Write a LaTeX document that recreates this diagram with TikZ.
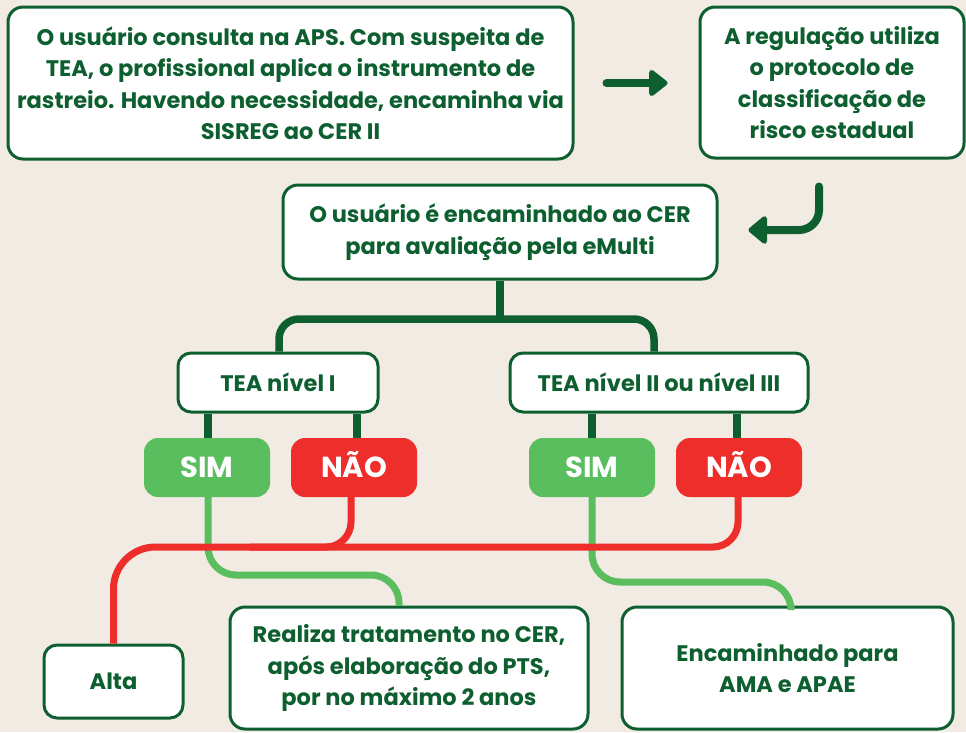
\documentclass[tikz,border=0pt]{standalone}
\usepackage{fontspec}
\setmainfont{Poppins}
\usetikzlibrary{arrows.meta}
\definecolor{dkg}{HTML}{0E5F30}
\definecolor{lgr}{HTML}{5BBE5E}
\definecolor{rdd}{HTML}{EE2E2A}
\definecolor{bgc}{HTML}{F1EBE3}
\tikzset{
  box/.style={draw=dkg, line width=3pt, fill=white, rounded corners=15pt, inner sep=0pt,
    align=center, text=dkg, font=\bfseries\fontsize{22.5}{31.5}\selectfont},
  tag/.style={rounded corners=14pt, inner sep=0pt, minimum width=126pt, minimum height=59pt,
    text height=20pt, text depth=0pt,
    text=white, font=\bfseries\fontsize{29}{32}\selectfont},
  dkline/.style={draw=dkg, line width=7.5pt},
  gline/.style={draw=lgr, line width=7pt, rounded corners=28pt},
  rline/.style={draw=rdd, line width=7pt},
}
\begin{document}
\begin{tikzpicture}[x=1pt,y=-1pt]
\fill[bgc] (0,0) rectangle (966,732);
\useasboundingbox (0,0) rectangle (966,732);

\node[box, minimum width=565pt, minimum height=152pt] (b1) at (290.5,83)
  {O usuário consulta na APS. Com suspeita de\\TEA, o profissional aplica o instrumento de\\rastreio. Havendo necessidade, encaminha via\\SISREG ao CER II};
\node[box, minimum width=264pt, minimum height=151pt] (b2) at (832,82.5)
  {A regulação utiliza\\o protocolo de\\classificação de\\risco estadual};
\node[box, minimum width=434pt, minimum height=94pt] (b3) at (500,232)
  {O usuário é encaminhado ao CER\\para avaliação pela eMulti};

% arrows
\draw[dkg, line width=8pt, line cap=round, -{Triangle[round,length=20pt,width=30pt]}]
  ([xshift=32pt]b1.east) -- ([xshift=-31pt]b2.west |- b1.east);
\draw[dkg, line width=8pt, line cap=round, rounded corners=20pt, -{Triangle[round,length=20pt,width=32pt]}]
  ([xshift=-13pt,yshift=-27pt]b2.south) |- ([xshift=30pt,yshift=2pt]b3.east);

\node[box, rounded corners=13pt, minimum width=200pt, minimum height=59pt] (t1) at (278,382.5) {TEA nível I};
\node[box, rounded corners=13pt, minimum width=298pt, minimum height=59pt] (t2) at (659,382.5) {TEA nível II ou nível III};

\coordinate (bar) at (499,319);
\draw[dkline, rounded corners=20pt] ([xshift=1pt]t1.north) |- (bar) -| ([xshift=-5pt]t2.north);
\draw[dkline] (b3.south) -- (b3.south |- bar);

\node[tag, fill=lgr] (s1) at (207,467.5) {SIM};
\node[tag, fill=rdd] (n1) at (354,467.5) {NÃO};
\node[tag, fill=lgr] (s2) at (592,467.5) {SIM};
\node[tag, fill=rdd] (n2) at (739,467.5) {NÃO};

\draw[dkline] ([xshift=1pt]s1.north) -- ([xshift=1pt]s1.north |- t1.south);
\draw[dkline] ([xshift=3pt]n1.north) -- ([xshift=3pt]n1.north |- t1.south);
\draw[dkline] (s2.north) -- (s2.north |- t2.south);
\draw[dkline] ([xshift=-2pt]n2.north) -- ([xshift=-2pt]n2.north |- t2.south);

\node[box, rounded corners=13pt, minimum width=139pt, minimum height=73pt] (alta) at (113.5,681.5) {Alta};
\node[box, minimum width=358pt, minimum height=122pt] (real) at (409,668)
  {Realiza tratamento no CER,\\após elaboração do PTS,\\por no máximo 2 anos};
\node[box, minimum width=331pt, minimum height=122pt] (enc) at (787.5,668)
  {Encaminhado para\\AMA e APAE};

% green paths
\coordinate (g1) at (300,575);
\coordinate (g2) at (690,582);
\draw[gline] ([xshift=1pt]s1.south) |- (g1) -| ([xshift=-10pt]real.north);
\draw[gline] (s2.south) |- (g2) -| ([xshift=3.5pt]enc.north);

% red paths
\coordinate (r1) at (250,547);
\draw[rline, rounded corners=25pt] ([xshift=-3pt]n1.south) |- (r1);
\draw[rline, rounded corners=25pt] ([xshift=-1pt]n2.south) |- (r1);
\draw[rline, rounded corners=42pt] (alta.north) |- (r1);
\end{tikzpicture}
\end{document}
